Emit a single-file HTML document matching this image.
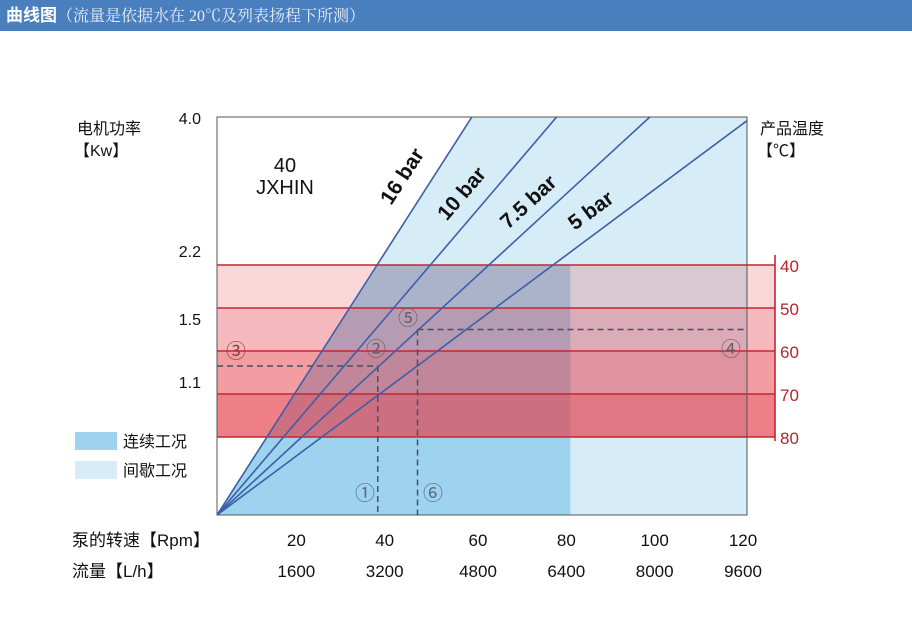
<!DOCTYPE html>
<html><head><meta charset="utf-8"><style>
body{margin:0;width:912px;height:641px;background:#fff;overflow:hidden;font-family:"Liberation Sans","Noto Sans CJK SC",sans-serif}
#hdr{position:absolute;left:0;top:0;width:912px;height:31px;background:#4a7fbf;color:#fff;font-size:16px;line-height:31px;padding-left:6px;box-sizing:border-box}
#hdr b{font-size:17px}
#hdr span{font-family:"Liberation Serif","Noto Serif CJK SC",serif;color:#e8eef8}
svg{position:absolute;left:0;top:0}
text{font-family:"Liberation Sans","Noto Sans CJK SC",sans-serif}
</style></head><body>
<div id="hdr"><b>曲线图</b><span>（流量是依据水在 20℃及列表扬程下所测）</span></div>
<svg id="chart" width="912" height="641"></svg>
<script>
const rpmTicks=[20,40,60,80,100,120];
const flowTicks=[1600,3200,4800,6400,8000,9600];
const powerTicks=["4.0","2.2","1.5","1.1"];
const powerVals=[4.0,2.2,1.5,1.1];
const tempTicks=[40,50,60,70,80];
const pressureLabels=["16 bar","10 bar","7.5 bar","5 bar"];
const lineEndRpm=[57.7,76.9,98,120];
const lineEndPower=[4.0,4.0,4.0,3.95];
const bandAlpha=[0.2,0.35,0.49,0.64];
const contRpmMax=80;
const contTemp=40;
const ref1={rpm:36.4,temp:63.5};
const ref2={rpm:45.4,temp:55};
const NS="http://www.w3.org/2000/svg";
const svg=document.getElementById('chart');
const X0=217,X1=747,Y0=515,YT=117;
function xs(r){return X0+(X1-X0)*r/120;}
// power axis (nonlinear piecewise, from picture)
const pv=[0,1.1,1.5,2.2,4.0], py=[515,381,318,250,117];
function ys(p){for(let i=1;i<pv.length;i++){if(p<=pv[i]){const t=(p-pv[i-1])/(pv[i]-pv[i-1]);return py[i-1]+t*(py[i]-py[i-1]);}}return 117;}
function yt(t){return 265+(t-40)*4.3;}
function el(tag,a,parent){const e=document.createElementNS(NS,tag);for(const k in a)e.setAttribute(k,a[k]);(parent||svg).appendChild(e);return e;}
// pale region
const slope16=(ys(lineEndPower[0])-Y0)/(xs(lineEndRpm[0])-X0);
let e=el('polygon',{points:`${X0},${Y0} ${xs(lineEndRpm[0])},${YT} ${X1},${YT} ${X1},${Y0}`,fill:'#d6ecf7'});

const yc=yt(contTemp), xc=X0+(yc-Y0)/slope16;
e=el('polygon',{points:`${X0},${Y0} ${xc},${yc} ${xs(contRpmMax)},${yc} ${xs(contRpmMax)},${Y0}`,fill:'#9dd3ee'});

// bands
for(let i=0;i<tempTicks.length-1;i++){
 e=el('rect',{x:X0,y:yt(tempTicks[i]),width:775-X0,height:yt(tempTicks[i+1])-yt(tempTicks[i]),fill:`rgba(230,55,66,${bandAlpha[i]})`});
 
}
tempTicks.forEach(t=>{e=el('line',{x1:X0,x2:775,y1:yt(t),y2:yt(t),stroke:'#c4262d','stroke-width':1.6});
 
 e=el('text',{x:780,y:yt(t)+7,fill:'#b5252b','font-size':17});e.textContent=t;
 });
e=el('line',{x1:775,x2:775,y1:255,y2:yt(80)+4,stroke:'#c4262d','stroke-width':1.6});

// plot frame
e=el('rect',{x:X0,y:YT,width:X1-X0,height:Y0-YT,fill:'none',stroke:'#555','stroke-width':1});

// pressure lines
const lblPos=[[408,180,-57],[467,198,-49.5],[533,207,-42.6],[595,216,-36.4]];
pressureLabels.forEach((l,i)=>{
 e=el('line',{x1:X0,y1:Y0,x2:xs(lineEndRpm[i]),y2:ys(lineEndPower[i]),stroke:'#3d5fa8','stroke-width':1.6});
 
 const [lx,ly,a]=lblPos[i];
 e=el('text',{x:lx,y:ly,'font-size':21,'font-weight':'bold',fill:'#111','text-anchor':'middle',transform:`rotate(${a} ${lx} ${ly})`});e.textContent=l;
 
});
// dashed guides
function dash(x1,y1,x2,y2,n){e=el('line',{x1,y1,x2,y2,stroke:'#4a4f66','stroke-width':1.5,'stroke-dasharray':'6 4'});}
dash(X0,yt(ref1.temp),xs(ref1.rpm),yt(ref1.temp),'guide-h-1');
dash(xs(ref1.rpm),yt(ref1.temp),xs(ref1.rpm),Y0,'guide-v-1');
dash(xs(ref2.rpm),yt(ref2.temp),X1,yt(ref2.temp),'guide-h-2');
dash(xs(ref2.rpm),yt(ref2.temp),xs(ref2.rpm),Y0,'guide-v-2');
const circ=[["①",365,493,'#5a6a7a'],["②",376,349,'#6a5a6a'],["③",236,351,'#8a3a40'],["④",731,349,'#6a5a6a'],["⑤",408,318,'#6a5a6a'],["⑥",433,493,'#5a6a7a']];
circ.forEach(c=>{e=el('text',{x:c[1],y:c[2]+7,'font-size':20,fill:c[3],'text-anchor':'middle'});e.textContent=c[0];
 });
// axis labels
powerTicks.forEach((t,i)=>{e=el('text',{x:201,y:ys(powerVals[i])+7,'font-size':16,fill:'#111','text-anchor':'end'});e.textContent=t;
 });
rpmTicks.forEach((r,i)=>{
 e=el('text',{x:xs(r)-4+ (r<=40?-5:0),y:546,'font-size':17,fill:'#111','text-anchor':'middle'});e.textContent=r;
 
 e=el('text',{x:xs(r)-4+(r<=40?-5:0),y:577,'font-size':17,fill:'#111','text-anchor':'middle'});e.textContent=flowTicks[i];
 });
function txt(s,x,y,sz,n,extra){e=el('text',Object.assign({x,y,'font-size':sz,fill:'#111'},extra||{}));e.textContent=s;}
txt('电机功率',77,134,16,'y-axis-title');
txt('【Kw】',74,156,16,'y-axis-unit');
txt('40',285,172,20,'model-number',{'text-anchor':'middle'});
txt('JXHIN',285,194,20,'model-name',{'text-anchor':'middle'});
txt('产品温度',760,134,16,'temp-axis-title');
txt('【℃】',757,156,16,'temp-axis-unit');
txt('泵的转速【Rpm】',72,546,17,'rpm-axis-title');
txt('流量【L/h】',72,577,17,'flow-axis-title');
e=el('rect',{x:75,y:432,width:42,height:18,fill:'#9dd3ee'});
e=el('rect',{x:75,y:461,width:42,height:18,fill:'#d6ecf7'});
txt('连续工况',123,447,16,'legend-entry-continuous');
txt('间歇工况',123,476,16,'legend-entry-intermittent');
</script>
</body></html>
